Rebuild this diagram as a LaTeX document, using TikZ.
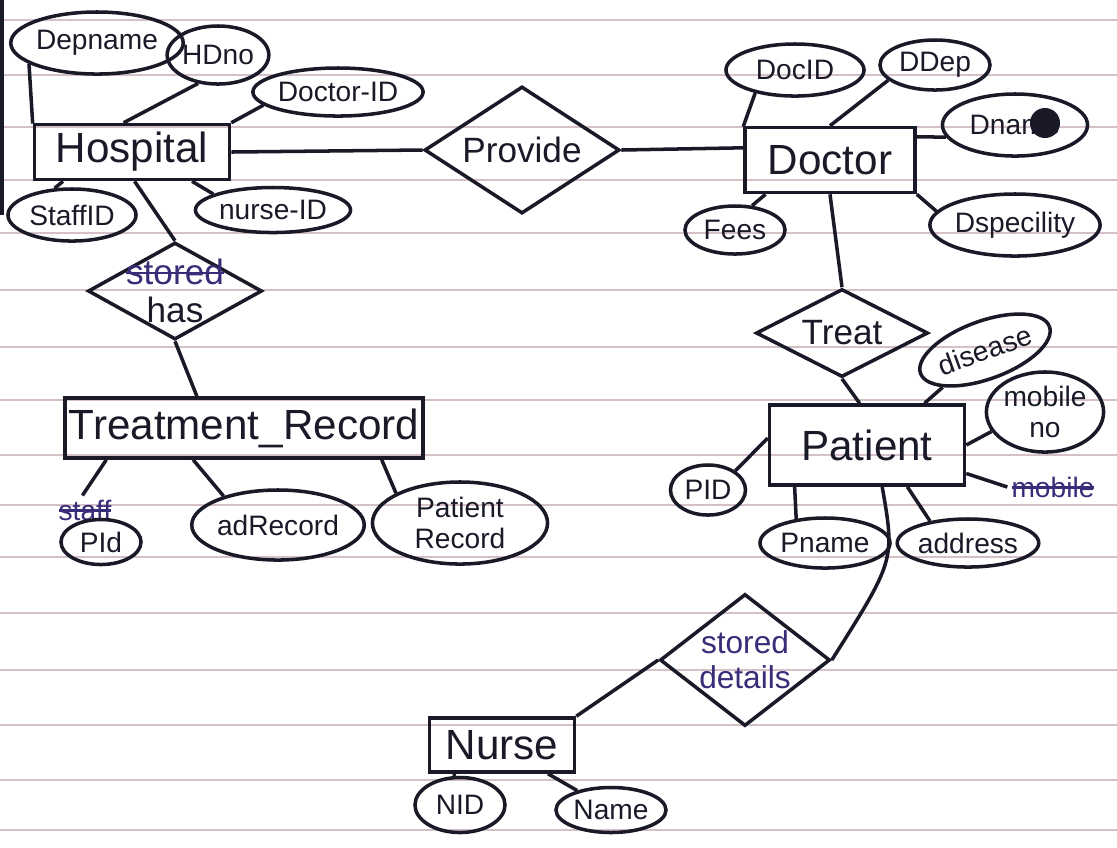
\documentclass[tikz,border=0pt]{standalone}
\usepackage{fontspec}
\setmainfont{Liberation Sans}
\usetikzlibrary{shapes.geometric}

\definecolor{ink}{RGB}{25,25,40}
\definecolor{penblue}{RGB}{55,45,120}
\definecolor{paperline}{RGB}{212,192,198}

\newlength{\strucklen}
\newcommand{\struckword}[1]{\settowidth{\strucklen}{#1}\rlap{\rule[0.55ex]{\strucklen}{0.7pt}}#1}

\tikzset{
  entity/.style={draw=ink, line width=1pt, rectangle, inner sep=0pt, text=ink, font=\fontsize{12}{14}\selectfont},
  attrib/.style={draw=ink, line width=1pt, ellipse, inner sep=0pt, text=ink, align=center, font=\fontsize{8}{9}\selectfont},
  relation/.style={draw=ink, line width=1pt, diamond, inner sep=0pt},
  reltext/.style={text=ink, align=center, font=\fontsize{10}{11}\selectfont},
  struck/.style={text=penblue, inner sep=1pt, font=\fontsize{8}{9}\selectfont},
  conn/.style={draw=ink, line width=1pt},
  ruling/.style={draw=paperline, line width=0.6pt}
}

\begin{document}
\begin{tikzpicture}[x=0.01cm, y=-0.01cm]
        \useasboundingbox (0,0) rectangle (1117,847);

        % Paper
        \foreach \y in {20,75,127,180,233,290,347,400,455,505,557,613,670,725,780,830}
            \draw[ruling] (0,\y) -- (1117,\y);
        \draw[ink, line width=1.2pt] (2,0) -- (2,215);

        % Hospital
        \node[entity, minimum width=1.95cm, minimum height=0.55cm] (hosp) at (132,152) {Hospital};
        \node[attrib, minimum width=1.38cm, minimum height=0.62cm] (depname) at (97,43) {Depname};
        \node[attrib, minimum width=0.9cm, minimum height=0.58cm] (hdno) at (218,55) {HDno};
        \node[attrib, minimum width=1.5cm, minimum height=0.48cm] (hdocid) at (338,92) {Doctor-ID};
        \node[attrib, minimum width=1.28cm, minimum height=0.52cm] (staffid) at (72,215) {StaffID};
        \node[attrib, minimum width=1.55cm, minimum height=0.45cm] (nurseid) at (273,210) {nurse-ID};

        % Relacoes
        \node[relation, minimum width=1.95cm, minimum height=1.27cm,
              label={[reltext]center:Provide}] (provide) at (522,150) {};
        \node[relation, minimum width=1.74cm, minimum height=0.97cm,
              label={[reltext]center:{\textcolor{penblue}{\struckword{stored}}\\has}}] (has) at (175,291) {};
        \node[relation, minimum width=1.72cm, minimum height=0.88cm,
              label={[reltext]center:Treat}] (treat) at (842,333) {};
        \node[relation, minimum width=1.7cm, minimum height=1.32cm,
              label={[reltext, text=penblue, font=\fontsize{9}{10}\selectfont]center:{stored\\details}}] (details) at (745,660) {};

        % Doctor
        \node[entity, minimum width=1.7cm, minimum height=0.65cm] (doctor) at (830,160) {Doctor};
        \node[attrib, minimum width=1.38cm, minimum height=0.52cm] (docid) at (795,70) {DocID};
        \node[attrib, minimum width=1.1cm, minimum height=0.5cm] (ddep) at (935,65) {DDep};
        \node[attrib, minimum width=1.45cm, minimum height=0.62cm] (dname) at (1015,125) {Dname};
        \fill[ink] (1045,123) circle (0.15cm);
        \node[attrib, minimum width=1.0cm, minimum height=0.48cm] (fees) at (735,230) {Fees};
        \node[attrib, minimum width=1.65cm, minimum height=0.62cm] (dspec) at (1015,225) {Dspecility};

        % Patient
        \node[entity, minimum width=1.95cm, minimum height=0.8cm] (patient) at (867,445) {Patient};
        \node[attrib, minimum width=1.15cm, minimum height=0.58cm, rotate=20] (disease) at (985,350) {disease};
        \node[attrib, minimum width=1.08cm, minimum height=0.8cm] (mobno) at (1045,412) {mobile\\no};
        \node[struck] (oldmob) at (1053,487) {\struckword{mobile}};
        \node[attrib, minimum width=0.75cm, minimum height=0.5cm] (pid) at (708,490) {PID};
        \node[attrib, minimum width=1.3cm, minimum height=0.5cm] (pname) at (825,543) {Pname};
        \node[attrib, minimum width=1.3cm, minimum height=0.48cm] (addr) at (968,543) {address};

        % Treatment record
        \node[entity, minimum width=3.58cm, minimum height=0.6cm] (trec) at (244,428) {Treatment\_Record};
        \node[struck] (oldstaff) at (85,510) {\struckword{staff}};
        \node[attrib, minimum width=0.8cm, minimum height=0.45cm] (pid2) at (101,542) {PId};
        \node[attrib, minimum width=1.62cm, minimum height=0.7cm] (adrec) at (278,525) {adRecord};
        \node[attrib, minimum width=1.75cm, minimum height=0.82cm] (precord) at (460,523) {Patient\\Record};

        % Nurse
        \node[entity, minimum width=1.45cm, minimum height=0.54cm] (nurse) at (502,745) {Nurse};
        \node[attrib, minimum width=0.9cm, minimum height=0.55cm] (nid) at (460,805) {NID};
        \node[attrib, minimum width=1.1cm, minimum height=0.45cm] (nname) at (611,810) {Name};

        % Ligacoes
        \draw[conn] (depname.197) -- (hosp.164);
        \draw[conn] (hdno.235) -- (hosp.106);
        \draw[conn] (hdocid.190) -- (hosp.north east);
        \draw[conn] (hosp.203) -- (staffid.123);
        \draw[conn] (hosp.334) -- (nurseid.165);
        \draw[conn] (hosp.east) -- (provide.west);
        \draw[conn] (provide.east) -- (doctor.172);
        \draw[conn] (hosp.275) -- (has.north);
        \draw[conn] (has.south) -- (trec.146);
        \draw[conn] (trec.193) -- (oldstaff.100);
        \draw[conn] (trec.212) -- (adrec.152);
        \draw[conn] (trec.347) -- (precord.155);

        \draw[conn] (docid.210) -- (doctor.159);
        \draw[conn] (ddep.198) -- (doctor.north);
        \draw[conn] (dname.190) -- (doctor.15);
        \draw[conn] (doctor.208) -- (fees.55);
        \draw[conn] (doctor.south east) -- (dspec.170);
        \draw[conn] (doctor.south) -- (treat.north);
        \draw[conn] (treat.south) -- (patient.100);

        \draw[conn] (patient.36) -- (disease);
        \draw[conn] (patient.east) -- (mobno.200);
        \draw[conn] (patient.344) -- (oldmob.west);
        \draw[conn] (patient.176) -- (pid.35);
        \draw[conn] (patient.210) -- (pname.140);
        \draw[conn] (patient.314) -- (addr.150);
        \draw[conn] (patient.290) .. controls (895,560) .. (details.east);
        \draw[conn] (details.west) -- (nurse.north east);
        \draw[conn] (nurse.211) -- (nid);
        \draw[conn] (nurse.328) -- (nname);
\end{tikzpicture}
\end{document}
